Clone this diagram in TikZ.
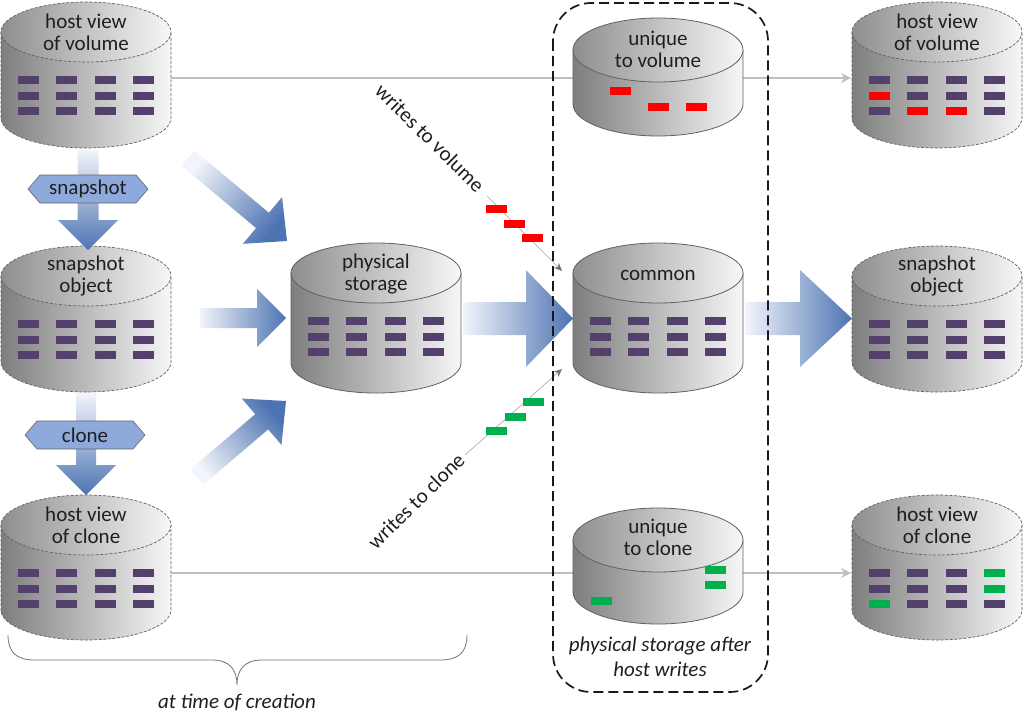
\documentclass[tikz,border=0pt]{standalone}
\usepackage{fontspec}
\setmainfont{Carlito}
\usetikzlibrary{calc,arrows.meta}
\definecolor{tilec}{HTML}{54416B}
\definecolor{wred}{HTML}{FF0000}
\definecolor{wgreen}{HTML}{00B050}
\definecolor{arrL}{HTML}{F2F5FB}
\definecolor{arrD}{HTML}{4D74B2}
\definecolor{hexf}{HTML}{8EA9DB}
\definecolor{glinec}{HTML}{BFBFBF}
\definecolor{cylL}{HTML}{7E7E7E}
\definecolor{cylR}{HTML}{F7F7F7}
\definecolor{topL}{HTML}{8E8E8E}
\definecolor{topR}{HTML}{F7F7F7}
\newcommand\cylinder[6]{%
  \shade[left color=cylL, right color=cylR, #6] (#2-85,#3) -- (#2-85,#4) arc[start angle=180,end angle=0,x radius=85,y radius=#5] -- (#2+85,#3) -- cycle;
  \shade[left color=topL, right color=topR, #6] (#2,#3) ellipse[x radius=85,y radius=#5];
  \coordinate (#1) at (#2,#3);
}
\newcommand\tilegrid[2]{\foreach \i in {0,1,2,3}{\foreach \j in {0,1,2}{\fill[tilec] ({#1-57.75+38.5*\i-10.5},{#2+48+15.5*\j-4}) rectangle ++(21,8);}}}
\newcommand\tileat[5]{\fill[#5] ({#1-57.75+38.5*#3-10.5},{#2+48+15.5*#4-4}) rectangle ++(21,8);}
\newcommand\blk[3]{\fill[#3] ({#1-10.5},{#2-4}) rectangle ++(21,8);}
\newcommand\bigarrow[6]{%
  \coordinate (hb) at ($(#2)!#5!(#1)$);
  \shade[top color=arrL, bottom color=arrD, shading angle=#6]
    ($(#1)!#3!90:(#2)$) -- ($(hb)!#3!90:(#2)$) -- ($(hb)!#4!90:(#2)$) -- (#2)
    -- ($(hb)!#4!-90:(#2)$) -- ($(hb)!#3!-90:(#2)$) -- ($(#1)!#3!-90:(#2)$) -- cycle;
}
\begin{document}
\begin{tikzpicture}[x=1pt,y=-1pt,
  txt/.style={font=\fontsize{21}{22}\selectfont, align=center, text=black!88, inner sep=0pt},
  itxt/.style={font=\fontsize{21}{25}\selectfont\itshape, align=center, text=black!88, inner sep=0pt},
  cyldash/.style={draw=black!62, line width=0.7pt, dash pattern=on 3pt off 1.6pt},
  cylsolid/.style={draw=black!62, line width=0.8pt},
  glin/.style={draw=glinec, line width=1.5pt, -{Stealth[length=10pt,width=10pt,inset=3.5pt]}},
  wlin/.style={draw=black!35, line width=0.6pt, -{Stealth[length=8pt,width=7pt,inset=2.5pt,color=black!55,fill=black!55]}},
  hexs/.style={fill=hexf, draw=black!60, line width=0.6pt}]
\useasboundingbox (0,0) rectangle (1024,717);

% thin grey host-view connectors
\coordinate (L1r) at (171,78);
\coordinate (R1l) at (851,78);
\coordinate (L3r) at (171,573);
\coordinate (R3l) at (851,573);
\draw[glin] (L1r) -- (R1l);
\draw[glin] (L3r) -- (R3l);

% write lines
\coordinate (wvs) at (487,196);
\coordinate (wve) at (562,271);
\coordinate (wcs) at (465,455);
\coordinate (wce) at (562,369);
\draw[wlin] (wvs) -- (wve);
\draw[wlin] (wcs) -- (wce);
\node[txt, rotate=-44.5] (wvol) at (430,138) {writes to volume};
\node[txt, rotate=44.5] (wclo) at (416,501) {writes to clone};
\blk{496}{209}{wred}
\blk{514}{224}{wred}
\blk{532}{238}{wred}
\blk{533}{402}{wgreen}
\blk{515}{417}{wgreen}
\blk{496}{431}{wgreen}

% left column
\cylinder{L1}{86}{32}{118}{30}{cyldash}
\tilegrid{86}{32}
\node[txt] (L1t) at (86,32) {host view\\of volume};
\cylinder{L2}{86}{276}{362}{30}{cyldash}
\tilegrid{86}{276}
\node[txt] (L2t) at (86,276) {snapshot\\object};
\cylinder{L3}{86}{525}{610}{30}{cyldash}
\tilegrid{86}{525}
\node[txt] (L3t) at (86,525) {host view\\of clone};

% physical storage
\cylinder{P}{376}{273}{363}{30}{cylsolid}
\tilegrid{376}{273}
\node[txt] (Pt) at (376,274) {physical\\storage};

% middle column
\cylinder{UV}{658}{50}{104}{32}{cylsolid}
\node[txt] (UVt) at (658,49) {unique\\to volume};
\blk{620}{91}{wred}
\blk{658}{107}{wred}
\blk{696}{107}{wred}
\cylinder{C}{658}{273}{363}{30}{cylsolid}
\tilegrid{658}{273}
\node[txt] (Ct) at (658,275) {common};
\cylinder{UC}{658}{540}{592}{32}{cylsolid}
\node[txt] (UCt) at (658,537) {unique\\to clone};
\blk{715}{570}{wgreen}
\blk{715}{585}{wgreen}
\blk{601}{601}{wgreen}

% right column
\cylinder{R1}{937}{32}{118}{30}{cyldash}
\tilegrid{937}{32}
\tileat{937}{32}{0}{1}{wred}
\tileat{937}{32}{1}{2}{wred}
\tileat{937}{32}{2}{2}{wred}
\node[txt] (R1t) at (937,32) {host view\\of volume};
\cylinder{R2}{937}{276}{362}{30}{cyldash}
\tilegrid{937}{276}
\node[txt] (R2t) at (937,276) {snapshot\\object};
\cylinder{R3}{937}{525}{610}{30}{cyldash}
\tilegrid{937}{525}
\tileat{937}{525}{3}{0}{wgreen}
\tileat{937}{525}{3}{1}{wgreen}
\tileat{937}{525}{0}{2}{wgreen}
\node[txt] (R3t) at (937,525) {host view\\of clone};

% big arrows
\coordinate (a1s) at (88,150);  \coordinate (a1e) at (88,250);
\coordinate (a2s) at (86,393);  \coordinate (a2e) at (86,495);
\coordinate (a3s) at (188,158); \coordinate (a3e) at (287,241);
\coordinate (a4s) at (200,318); \coordinate (a4e) at (286,318);
\coordinate (a5s) at (197,477); \coordinate (a5e) at (286,401);
\coordinate (a6s) at (463,318.5); \coordinate (a6e) at (573,318.5);
\coordinate (a7s) at (745,318.5); \coordinate (a7e) at (852,318.5);
\bigarrow{a1s}{a1e}{10.5pt}{30pt}{30pt}{0}
\bigarrow{a2s}{a2e}{10pt}{30pt}{30pt}{0}
\bigarrow{a3s}{a3e}{10pt}{30.5pt}{32pt}{50}
\bigarrow{a4s}{a4e}{10pt}{29pt}{29pt}{90}
\bigarrow{a5s}{a5e}{10pt}{30.5pt}{32pt}{130}
\bigarrow{a6s}{a6e}{16.5pt}{48.5pt}{47pt}{90}
\bigarrow{a7s}{a7e}{16.5pt}{48.5pt}{52pt}{90}

% operation labels
\path[hexs] (28,189) -- (40,175) -- (136,175) -- (148,189) -- (136,203) -- (40,203) -- cycle;
\node[txt] (snap) at (88,189) {snapshot};
\path[hexs] (25,435) -- (37,421) -- (133,421) -- (145,435) -- (133,449) -- (37,449) -- cycle;
\node[txt] (clon) at (85,435) {clone};

% dashed group
\draw[black!90, line width=1.7pt, dash pattern=on 10pt off 5pt, rounded corners=38pt] (553,3) rectangle (768,692);
\node[itxt] (after) at (660,657) {physical storage after\\host writes};

% brace
\draw[black!55, line width=0.8pt] (8,635) .. controls (8,652) and (16,660) .. (35,660) -- (212,660)
  .. controls (230,660) and (237,670) .. (237,685)
  .. controls (237,670) and (244,660) .. (262,660) -- (440,660)
  .. controls (459,660) and (467,652) .. (467,635);
\node[itxt] (creat) at (237,702) {at time of creation};
\end{tikzpicture}
\end{document}
